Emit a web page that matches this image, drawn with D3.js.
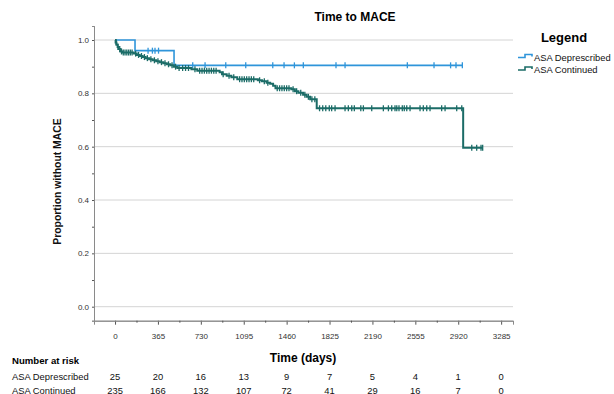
<!DOCTYPE html>
<html>
<head>
<meta charset="utf-8">
<script src="https://cdn.jsdelivr.net/npm/d3@7"></script>
<style>
body { margin: 0; background: #fff; }
text { font-family: "Liberation Sans", Arial, sans-serif; }
</style>
</head>
<body>
<script>
// number at risk table
var timeTicks = [0, 365, 730, 1095, 1460, 1825, 2190, 2555, 2920, 3285];
var riskDeprescribed = [25, 20, 16, 13, 9, 7, 5, 4, 1, 0];
var riskContinued = [235, 166, 132, 107, 72, 41, 29, 16, 7, 0];
var yTicks = [0, 0.2, 0.4, 0.6, 0.8, 1.0];

// KM steps [day, survival after step]
var stepsDeprescribed = [[0, 1], [170, 0.96], [502, 0.905]];
var endDeprescribed = 2955;
var censorDeprescribed = [281, 318, 340, 370, 661, 766, 942, 1112, 1342, 1438, 1526, 1602, 1880, 1957, 2487, 2714, 2855, 2901, 2955];

var stepsContinued = [[0, 1], [5, 0.991], [12, 0.983], [22, 0.974], [32, 0.966], [45, 0.957], [60, 0.953],
	[160, 0.949], [185, 0.944], [210, 0.940], [235, 0.936], [260, 0.932], [290, 0.928], [320, 0.924],
	[350, 0.920], [380, 0.917], [410, 0.913], [440, 0.909], [470, 0.905], [500, 0.900], [530, 0.895],
	[650, 0.890], [700, 0.885], [890, 0.879], [910, 0.872], [950, 0.866], [990, 0.860], [1040, 0.853],
	[1215, 0.849], [1250, 0.845], [1290, 0.840], [1320, 0.836], [1345, 0.828], [1365, 0.819],
	[1500, 0.815], [1530, 0.808], [1560, 0.802], [1600, 0.795], [1630, 0.787], [1660, 0.778],
	[1716, 0.744], [2962, 0.596]];
var endContinued = 3128;
var censorContinued = [10, 25, 40, 55, 70, 85, 100, 115, 130, 145, 175, 200, 225, 250, 275, 305, 335, 365,
	395, 425, 455, 485, 515, 545, 575, 600, 625, 680, 720, 740, 760, 780, 800, 820, 840, 860, 920, 970,
	1010, 1060, 1080, 1100, 1120, 1140, 1160, 1180, 1230, 1270, 1300, 1380, 1400, 1420, 1440, 1460, 1480,
	1515, 1545, 1580, 1615, 1645, 1675, 1700, 1740, 1767, 1793, 1823, 1843, 1872, 1957, 1985, 2014, 2036,
	2091, 2113, 2184, 2283, 2326, 2354, 2382, 2397, 2416, 2444, 2461, 2482, 2510, 2595, 2623, 2652, 2680,
	2779, 2808, 2907, 2950, 3035, 3077, 3114, 3128];

var colDeprescribed = "#2f95da";
var colContinued = "#1b6c67";

var svg = d3.select("body").append("svg")
	.attr("width", 614)
	.attr("height", 394);

var xScale = d3.scaleLinear().domain([-179, 3386]).range([94, 513]);
var yScale = d3.scaleLinear().domain([-0.0525, 1.0525]).range([320.7, 26]);

//gridlines
svg.append("g")
	.selectAll("line")
	.data(yTicks)
	.enter().append("line")
		.attr("x1", 94).attr("x2", 513)
		.attr("y1", function(d){ return yScale(d); })
		.attr("y2", function(d){ return yScale(d); })
		.attr("stroke", "#d4d4d4")
		.attr("stroke-width", 1);

//y axis
svg.append("g")
	.attr("transform", "translate(94,0)")
	.call(d3.axisLeft(yScale).tickValues(yTicks).tickSize(2).tickFormat(d3.format(".1f")));
svg.append("g")
	.attr("transform", "translate(94,0)")
	.call(d3.axisLeft(yScale).tickValues([0.1, 0.3, 0.5, 0.7, 0.9]).tickSize(2).tickFormat(""));

//x axis
svg.append("g")
	.attr("transform", "translate(0,320.7)")
	.call(d3.axisBottom(xScale).tickValues(timeTicks).tickSize(4).tickPadding(9).tickFormat(d3.format("d")));
svg.append("g")
	.attr("transform", "translate(0,320.7)")
	.call(d3.axisBottom(xScale).tickValues(timeTicks.slice(0, -1).map(function(d){ return d + 182.5; })).tickSize(2).tickFormat(""));

svg.selectAll(".domain").attr("stroke", "#8a8a8a");
svg.selectAll(".tick line").attr("stroke", "#555");
svg.selectAll(".tick text")
	.attr("fill", "#333")
	.style("font-size", "8px")
	.style("font-family", "Liberation Sans, Arial, sans-serif");

//KM curves
var line = d3.line()
	.curve(d3.curveStepAfter)
	.x(function(d){ return xScale(d[0]); })
	.y(function(d){ return yScale(d[1]); });

function survivalAt(steps, t){
	var s = steps[0][1];
	steps.forEach(function(d){ if (d[0] <= t) s = d[1]; });
	return s;
}

function drawCurve(steps, end, censors, col, w){
	var pts = steps.concat([[end, steps[steps.length - 1][1]]]);
	svg.append("path")
		.datum(pts)
		.attr("fill", "none")
		.attr("stroke", col)
		.attr("stroke-width", w)
		.attr("d", line);
	svg.append("g")
		.selectAll("line")
		.data(censors)
		.enter().append("line")
			.attr("x1", function(d){ return xScale(d); })
			.attr("x2", function(d){ return xScale(d); })
			.attr("y1", function(d){ return yScale(survivalAt(steps, d)) - 3; })
			.attr("y2", function(d){ return yScale(survivalAt(steps, d)) + 3; })
			.attr("stroke", col)
			.attr("stroke-width", 1.3);
}

drawCurve(stepsDeprescribed, endDeprescribed, censorDeprescribed, colDeprescribed, 1.6);
drawCurve(stepsContinued, endContinued, censorContinued, colContinued, 2);

//title and axis labels
svg.append("text")
	.attr("x", 355).attr("y", 21)
	.attr("text-anchor", "middle")
	.style("font-size", "12px").style("font-weight", "bold")
	.text("Time to MACE");

svg.append("text")
	.attr("transform", "translate(61,181.5) rotate(-90)")
	.attr("text-anchor", "middle")
	.style("font-size", "10.4px").style("font-weight", "bold")
	.attr("fill", "#111")
	.text("Proportion without MACE");

svg.append("text")
	.attr("x", 303).attr("y", 362)
	.attr("text-anchor", "middle")
	.style("font-size", "12px").style("font-weight", "bold")
	.text("Time (days)");

//legend
svg.append("text")
	.attr("x", 564).attr("y", 41.5)
	.attr("text-anchor", "middle")
	.style("font-size", "13px").style("font-weight", "bold")
	.text("Legend");

var legendItems = [["ASA Deprescribed", colDeprescribed], ["ASA Continued", colContinued]];
legendItems.forEach(function(d, i){
	var ly = 57.5 + i * 12.5;
	svg.append("path")
		.attr("d", "M518," + ly + "H525V" + (ly - 3) + "H532V" + (ly - 1))
		.attr("fill", "none")
		.attr("stroke", d[1])
		.attr("stroke-width", 1.6);
	svg.append("text")
		.attr("x", 534).attr("y", ly + 3)
		.style("font-size", "9.4px")
		.attr("fill", "#111")
		.text(d[0]);
});

//number at risk
svg.append("text")
	.attr("x", 12).attr("y", 363.5)
	.style("font-size", "9.6px").style("font-weight", "bold")
	.text("Number at risk");

var riskRows = [["ASA Deprescribed", riskDeprescribed, 380], ["ASA Continued", riskContinued, 393.5]];
riskRows.forEach(function(r){
	svg.append("text")
		.attr("x", 12).attr("y", r[2])
		.style("font-size", "9.4px")
		.attr("fill", "#111")
		.text(r[0]);
	svg.append("g")
		.selectAll("text")
		.data(r[1])
		.enter().append("text")
			.attr("x", function(d, i){ return xScale(timeTicks[i]); })
			.attr("y", r[2])
			.attr("text-anchor", "middle")
			.style("font-size", "9.4px")
			.attr("fill", "#111")
			.text(function(d){ return d; });
});
</script>
</body>
</html>
